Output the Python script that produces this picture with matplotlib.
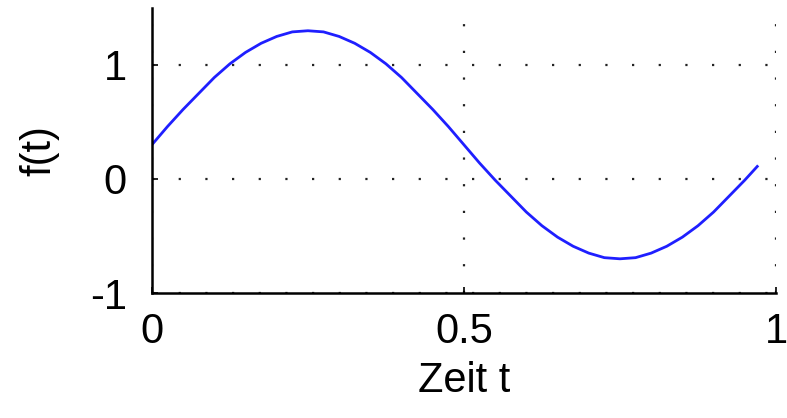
import matplotlib.pyplot as plt

plt.rcParams['font.family'] = ['Liberation Sans', 'DejaVu Sans']
plt.rcParams['axes.unicode_minus'] = False

# values
t = [0.000, 0.025, 0.050, 0.075, 0.100, 0.125, 0.150, 0.175, 0.200, 0.225,
     0.250, 0.275, 0.300, 0.325, 0.350, 0.375, 0.400, 0.425, 0.450, 0.475,
     0.500, 0.525, 0.550, 0.575, 0.600, 0.625, 0.650, 0.675, 0.700, 0.725,
     0.750, 0.775, 0.800, 0.825, 0.850, 0.875, 0.900, 0.925, 0.950, 0.970]
f = [0.30, 0.46, 0.61, 0.75, 0.89, 1.01, 1.11, 1.19, 1.25, 1.29,
     1.30, 1.29, 1.25, 1.19, 1.11, 1.01, 0.89, 0.75, 0.61, 0.46,
     0.30, 0.14, -0.01, -0.15, -0.29, -0.41, -0.51, -0.59, -0.65, -0.69,
     -0.70, -0.69, -0.65, -0.59, -0.51, -0.41, -0.29, -0.15, -0.01, 0.11]

xticks = [0, 0.5, 1]
xticklabels = ["0", "0.5", "1"]
yticks = [-1, 0, 1]
yticklabels = ["-1", "0", "1"]

fig = plt.figure(figsize=(7.87, 4.18), dpi=100)
ax = fig.add_axes([0.193, 0.299, 0.793, 0.682])

ax.plot(t, f, color="#1f1fff", lw=2.0)

ax.set_xlim(0, 1)
ax.set_ylim(-1, 1.5)
ax.set_xticks(xticks)
ax.set_xticklabels(xticklabels)
ax.set_yticks(yticks)
ax.set_yticklabels(yticklabels)
ax.tick_params(direction="in", length=4, width=1.2, labelsize=30, pad=14)
ax.tick_params(axis="y", pad=18)

ax.grid(True, color="#222222", lw=1.6, linestyle=(0, (1, 11)))

for s in ["top", "right"]:
    ax.spines[s].set_visible(False)
for s in ["left", "bottom"]:
    ax.spines[s].set_linewidth(1.8)

ax.set_xlabel("Zeit t", fontsize=30, labelpad=6)
ax.set_ylabel("f(t)", fontsize=30, labelpad=22)

fig.savefig("out.png", dpi=100)
